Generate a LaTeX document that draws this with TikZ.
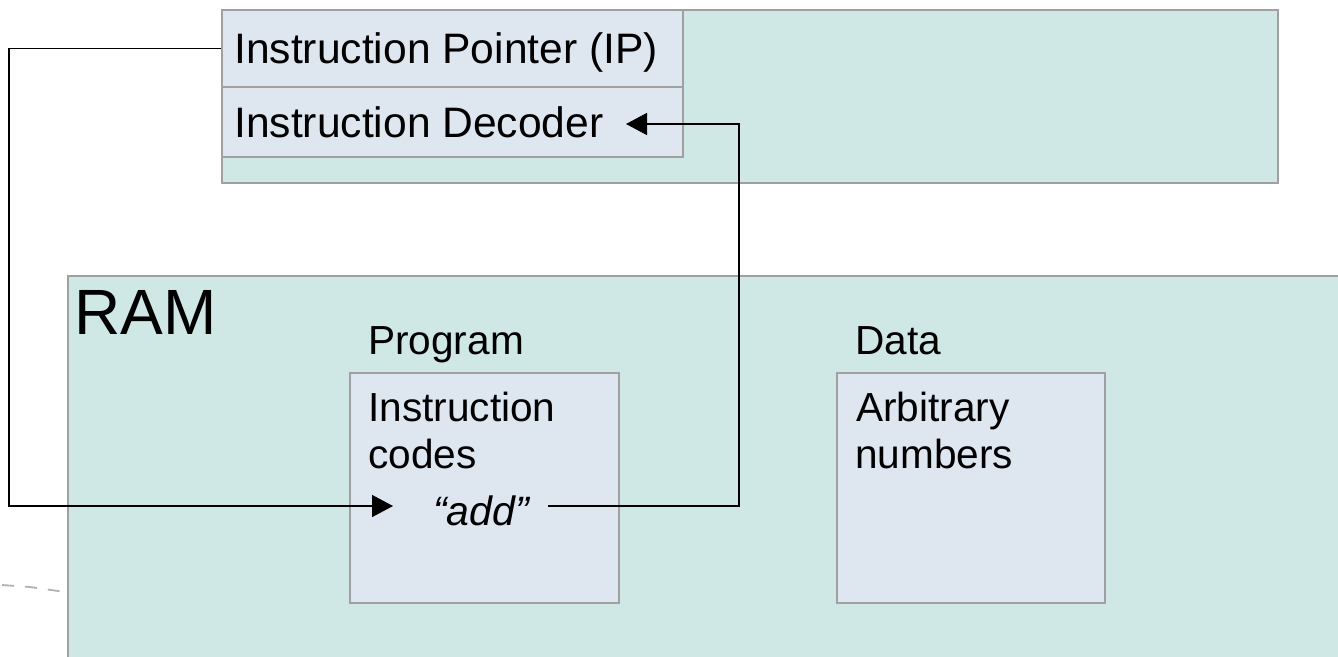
\documentclass[tikz,border=0pt]{standalone}
\usepackage{fontspec}
\setmainfont{Liberation Sans}
\usetikzlibrary{arrows.meta}
\definecolor{unitfill}{HTML}{CFE7E5}
\definecolor{cellfill}{HTML}{DEE6F0}
\definecolor{edgegray}{HTML}{A0A0A0}
\begin{document}
\begin{tikzpicture}[x=1pt,y=-1pt,
  unit/.style={draw=edgegray, fill=unitfill, line width=1.5pt, anchor=north west, inner sep=0pt},
  cell/.style={draw=edgegray, fill=cellfill, line width=1.5pt, anchor=north west, inner sep=0pt},
  bigtext/.style={font=\fontsize{42.6}{48}\selectfont, inner sep=0pt, anchor=base west},
  midtext/.style={font=\fontsize{40.6}{47}\selectfont, inner sep=0pt, anchor=base west},
  wire/.style={line width=1.4pt, black},
  tipped/.style={-{Triangle[length=21pt,width=22pt]}}]
\useasboundingbox (0,0) rectangle (1338,656);
\clip (0,0) rectangle (1338,656);

% faint dashed trace behind the memory block
\draw[black!30, line width=1.8pt, dash pattern=on 12pt off 11pt] (2,585) -- (30,587) -- (72,593);

% memory block and its two regions
\node[unit, minimum width=1290pt, minimum height=400pt] (ram) at (67,275) {};
\node[cell, minimum width=269pt, minimum height=230pt] (prog) at (349,372) {};
\node[cell, minimum width=268pt, minimum height=230pt] (data) at (836,372) {};

% processor block with its two registers
\node[unit, minimum width=1056pt, minimum height=173pt] (cpu) at (221,9) {};
\node[cell, minimum width=461pt, minimum height=77pt] (ipcell) at (221,9) {};
\node[cell, minimum width=461pt, minimum height=70pt] (deccell) at (221,86) {};

% labels
\node[bigtext] (iptxt) at (234,63) {Instruction Pointer (IP)};
\node[bigtext] (dectxt) at (234,137) {Instruction Decoder};
\node[font=\fontsize{64}{72}\selectfont, inner sep=0pt, anchor=base west] (ramtxt) at (74,334) {RAM};
\node[midtext] (progtxt) at (368,354) {Program};
\node[midtext] (codesa) at (368,421) {Instruction};
\node[midtext] (codesb) at (368,468) {codes};
\node[midtext] (datatxt) at (855,354) {Data};
\node[midtext] (arba) at (856,421) {Arbitrary};
\node[midtext] (arbb) at (855,468) {numbers};
\node[midtext, font=\fontsize{41}{47}\selectfont\itshape] (addtxt) at (433,525) {“add”};

% fetch and decode paths
\coordinate (fetchtip) at (393,506);
\coordinate (addout) at (548,506);
\coordinate (dectip) at (626,124);
\draw[wire, tipped] (ipcell.west) -| (9,506) -- (fetchtip);
\draw[wire, tipped] (addout) -- (739,506) |- (dectip);
\end{tikzpicture}
\end{document}
